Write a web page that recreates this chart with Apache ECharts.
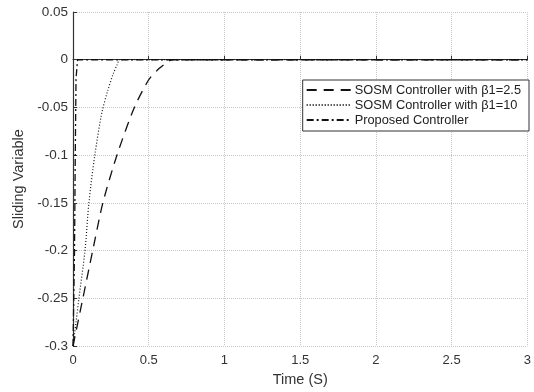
<!DOCTYPE html>
<html>
<head>
<meta charset="utf-8">
<script src="https://cdn.jsdelivr.net/npm/echarts@6/dist/echarts.min.js"></script>
<style>
  html, body { margin: 0; padding: 0; background: #fff; }
  #chart { width: 534px; height: 392px; }
</style>
</head>
<body>
<div id="chart"></div>
<script>
// SOSM controller, beta1 = 2.5
const tA = [0, 0.065, 0.13, 0.197, 0.29, 0.405, 0.5, 0.57, 0.62, 0.655, 3];
const yA = [-0.3, -0.25, -0.2, -0.15, -0.1, -0.05, -0.021, -0.009, -0.003, 0, 0];

// SOSM controller, beta1 = 10
const tB = [0, 0.02, 0.039, 0.079, 0.105, 0.144, 0.19, 0.23, 0.265, 0.292, 0.31, 3];
const yB = [-0.3, -0.275, -0.25, -0.2, -0.15, -0.1, -0.056, -0.032, -0.015, -0.005, 0, 0];

// proposed controller
const tC = [0, 0.01, 0.015, 0.02, 0.03, 3];
const yC = [-0.3, -0.2, -0.1, -0.02, 0, 0];

const names = ['SOSM Controller with β1=2.5', 'SOSM Controller with β1=10', 'Proposed Controller'];

const pairs = (t, y) => t.map((v, i) => [v, y[i]]);

const chart = echarts.init(document.getElementById('chart'));
const font = 'Liberation Sans, Arial, sans-serif';

chart.setOption({
  animation: false,
  backgroundColor: '#fff',
  grid: { left: 73, right: 3, top: 12, bottom: 43 },
  legend: {
    data: names,
    orient: 'vertical',
    right: 5,
    top: 80,
    itemWidth: 44,
    itemHeight: 10,
    itemGap: 1,
    padding: [3, 8, 4, 3],
    borderColor: '#333',
    borderWidth: 1,
    backgroundColor: '#fff',
    itemStyle: { opacity: 0 },
    textStyle: { fontFamily: font, fontSize: 12.8, lineHeight: 14, color: '#222', padding: [0, 0, 0, -1] }
  },
  xAxis: {
    type: 'value',
    min: 0,
    max: 3,
    interval: 0.5,
    name: 'Time (S)',
    nameLocation: 'middle',
    nameGap: 24,
    nameTextStyle: { fontFamily: font, fontSize: 14.5, color: '#333' },
    axisLine: { lineStyle: { color: '#333', width: 1.2 } },
    axisTick: { inside: true, length: 4, lineStyle: { color: '#333' } },
    axisLabel: { fontFamily: font, fontSize: 13, color: '#333', margin: 8 },
    splitLine: { show: true, lineStyle: { color: '#c8c8c8', type: 'dotted' } }
  },
  yAxis: {
    type: 'value',
    min: -0.3,
    max: 0.05,
    interval: 0.05,
    name: 'Sliding Variable',
    nameLocation: 'middle',
    nameGap: 45,
    nameTextStyle: { fontFamily: font, fontSize: 14.5, color: '#333' },
    axisLine: { show: true, lineStyle: { color: '#333', width: 1.2 } },
    axisTick: { show: true, inside: true, length: 4, lineStyle: { color: '#333' } },
    axisLabel: { fontFamily: font, fontSize: 13.5, color: '#333', margin: 5 },
    splitLine: { show: true, lineStyle: { color: '#c8c8c8', type: 'dotted' } }
  },
  series: [
    {
      name: names[0],
      type: 'line',
      data: pairs(tA, yA),
      smooth: 0.25,
      symbol: 'none',
      lineStyle: { color: '#111', width: 1.3, type: [10, 7] }
    },
    {
      name: names[1],
      type: 'line',
      data: pairs(tB, yB),
      smooth: 0.3,
      symbol: 'none',
      lineStyle: { color: '#111', width: 1.2, type: [1, 2] }
    },
    {
      name: names[2],
      type: 'line',
      data: pairs(tC, yC),
      symbol: 'none',
      lineStyle: { color: '#111', width: 1.3, type: [7, 3, 2, 3] }
    }
  ]
});
</script>
</body>
</html>
